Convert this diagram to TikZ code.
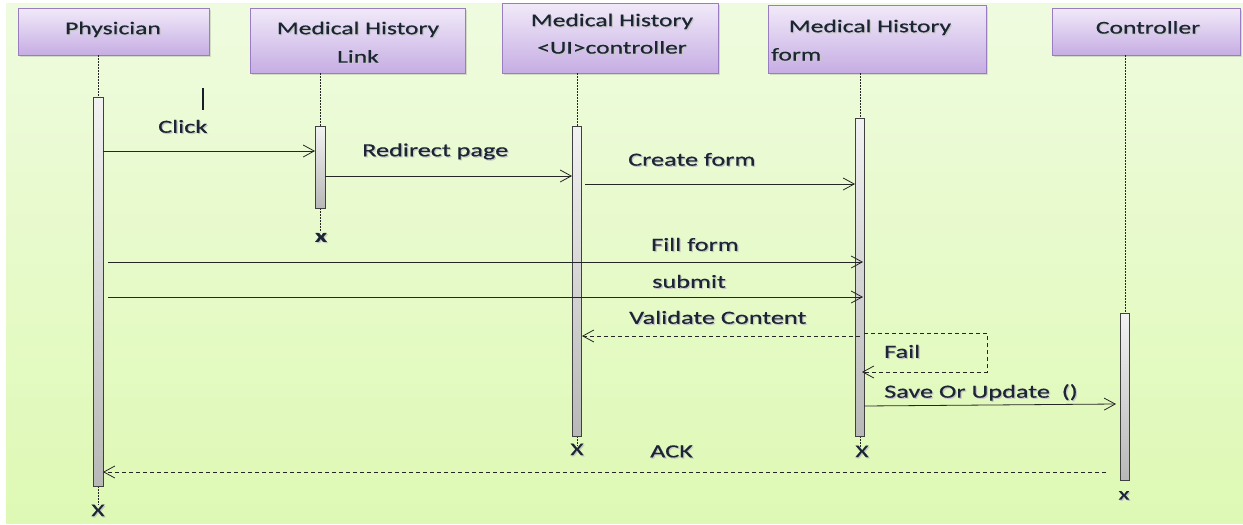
\documentclass[tikz,border=0pt]{standalone}
\usepackage{fontspec}
\setmainfont{Carlito}[FakeStretch=1.42, FakeBold=0.5]
\usetikzlibrary{arrows.meta,shadows}

\definecolor{bgtop}{HTML}{EFFBDF}
\definecolor{bgbot}{HTML}{DEF9B4}
\definecolor{boxtop}{HTML}{F1EAF9}
\definecolor{boxbot}{HTML}{C6ADE3}
\definecolor{boxline}{HTML}{9A7CC2}
\definecolor{bartop}{HTML}{F2F2F2}
\definecolor{barbot}{HTML}{B8B8B8}
\definecolor{inkcol}{HTML}{1B2533}

% text with a soft offset shadow behind it
\newcommand\shadowed[1]{\makebox[0pt][l]{\hspace{1.2pt}\raisebox{-1.2pt}{\color{black!22}#1}}#1}

\tikzset{
  actor/.style={draw=boxline, line width=0.8pt, top color=boxtop, bottom color=boxbot,
    drop shadow={opacity=0.25, shadow xshift=2pt, shadow yshift=-2pt}},
  actortext/.style={text=inkcol, font=\fontsize{18}{21}\selectfont, inner sep=0pt},
  lifeline/.style={draw=black!85, line width=0.8pt, dash pattern=on 2pt off 1pt},
  actbar/.style={draw=black!75, line width=0.9pt, top color=bartop, bottom color=barbot},
  msg/.style={draw=black!85, line width=0.8pt, -{Straight Barb[length=11pt,width=12pt]}},
  reply/.style={msg, dash pattern=on 4pt off 3pt},
  lbl/.style={text=inkcol, font=\fontsize{18.5}{21}\selectfont, anchor=west, inner sep=0pt},
  endmark/.style={text=inkcol, font=\fontsize{18}{21}\selectfont, inner sep=0pt},
}

\begin{document}
\begin{tikzpicture}[x=1pt, y=-1pt]
\useasboundingbox (0,0) rectangle (1243,525);
\fill[white] (0,0) rectangle (1243,525);
\shade[top color=bgtop, bottom color=bgbot] (6,3) rectangle (1243,523);

% participants
\path[actor] (18,8) rectangle (209,55);
\node[actortext] (phys) at (113,30) {\shadowed{Physician}};

\path[actor] (250,8) rectangle (465,73);
\node[actortext] (linkA) at (358,30) {\shadowed{Medical History}};
\node[actortext] (linkB) at (358,57) {\shadowed{Link}};

\path[actor] (502,3) rectangle (718,73);
\node[actortext] (uiA) at (612,22) {\shadowed{Medical History}};
\node[actortext] (uiB) at (612,48) {\shadowed{<UI>controller}};

\path[actor] (768,5) rectangle (986,73);
\node[actortext] (formA) at (870,28) {\shadowed{Medical History}};
\node[actortext, anchor=west] (formB) at (771,55) {\shadowed{form}};

\path[actor] (1052,8) rectangle (1240,55);
\node[actortext] (ctrl) at (1148,28) {\shadowed{Controller}};

% lifelines
\draw[lifeline] (98,55) -- (98,97);
\draw[lifeline] (98,486) -- (98,505);
\draw[lifeline] (320,73) -- (320,126);
\draw[lifeline] (320,208) -- (320,232);
\draw[lifeline] (577,73) -- (577,126);
\draw[lifeline] (577,436) -- (577,446);
\draw[lifeline] (860,73) -- (860,118);
\draw[lifeline] (860,436) -- (860,448);
\draw[lifeline] (1125,55) -- (1125,313);

% activation bars
\path[actbar] (93,97) rectangle (103,486);
\path[actbar] (315,126) rectangle (325,208);
\path[actbar] (572,126) rectangle (581,436);
\path[actbar] (855,118) rectangle (864,436);
\path[actbar] (1120,313) rectangle (1129,480);

% end markers
\node[endmark] (physEnd) at (98,511) {\shadowed{X}};
\node[endmark] (linkEnd) at (321,238) {\shadowed{\textbf{x}}};
\node[endmark] (uiEnd) at (577,450) {\shadowed{X}};
\node[endmark] (formEnd) at (862,452) {\shadowed{X}};
\node[endmark] (ctrlEnd) at (1124,496) {\shadowed{x}};

% message end points
\coordinate (clickS) at (103,151);   \coordinate (clickE) at (315,151);
\coordinate (redirS) at (325,176);   \coordinate (redirE) at (572,176);
\coordinate (createS) at (585,184);  \coordinate (createE) at (855,184);
\coordinate (fillS) at (108,262);    \coordinate (fillE) at (863,262);
\coordinate (subS) at (108,297);     \coordinate (subE) at (863,297);
\coordinate (valS) at (860,336);     \coordinate (valE) at (582,336);
\coordinate (failS) at (864,333);    \coordinate (failR) at (987,333);
\coordinate (failB) at (987,372);    \coordinate (failE) at (862,372);
\coordinate (saveS) at (864,406);    \coordinate (saveE) at (1116,404);
\coordinate (ackS) at (1106,472);    \coordinate (ackE) at (103,472);

% messages
\draw[msg] (clickS) -- (clickE);
\draw[msg] (redirS) -- (redirE);
\draw[msg] (createS) -- (createE);
\draw[msg] (fillS) -- (fillE);
\draw[msg] (subS) -- (subE);
\draw[reply] (valS) -- (valE);
\draw[reply] (failS) -- (failR) -- (failB) -- (failE);
\draw[msg] (saveS) -- (saveE);
\draw[reply] (ackS) -- (ackE);

% labels
\node[lbl] (lClick) at (158,127) {\shadowed{Click}};
\node[lbl] (lRedir) at (362,152) {\shadowed{Redirect page}};
\node[lbl] (lCreate) at (628,160) {\shadowed{Create form}};
\node[lbl] (lFill) at (651,245) {\shadowed{Fill form}};
\node[lbl] (lSub) at (652,282) {\shadowed{submit}};
\node[lbl] (lVal) at (629,318) {\shadowed{Validate Content}};
\node[lbl] (lFail) at (884,352) {\shadowed{Fail}};
\node[lbl] (lSave) at (884,393) {\shadowed{Save Or Update\ \ ()}};
\node[lbl] (lAck) at (650,452) {\shadowed{ACK}};

% text cursor mark
\draw[line width=2.4pt, color=inkcol!80!black] (203,88) -- (203,110);
\end{tikzpicture}
\end{document}
